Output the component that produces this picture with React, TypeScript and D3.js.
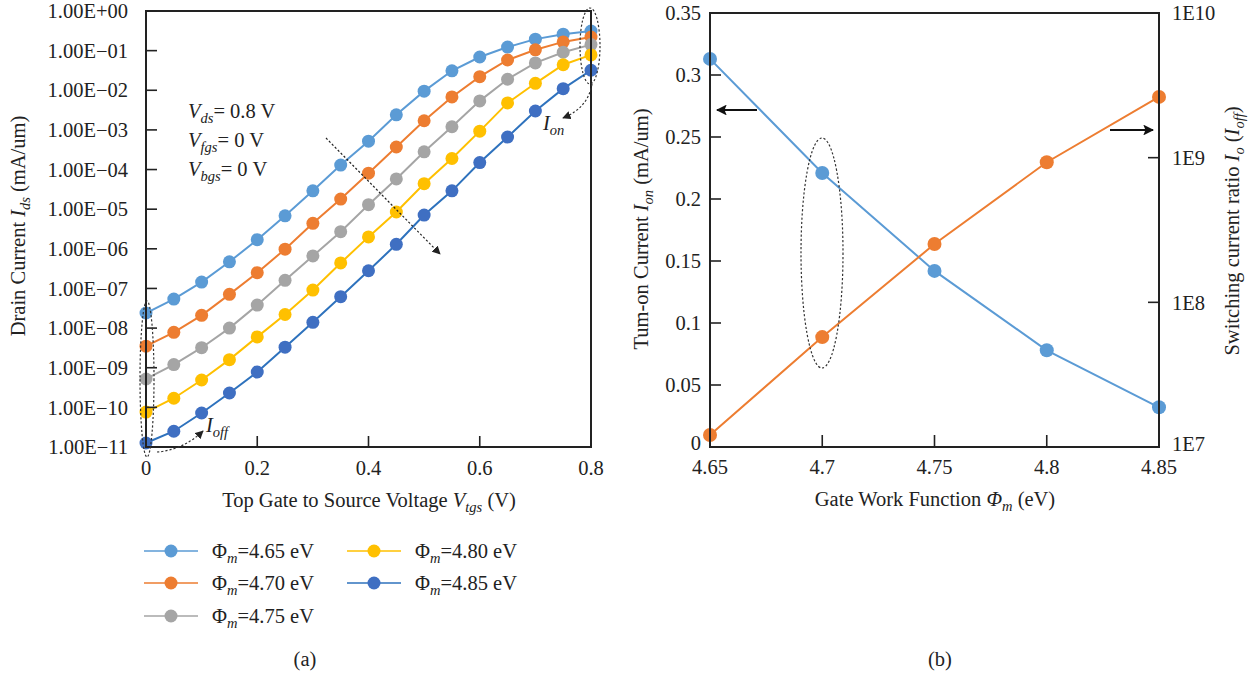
import React from "react";
import * as d3 from "d3";

// ---- Panel (a): drain current vs top-gate voltage ----
const vtgs = [0, 0.05, 0.1, 0.15, 0.2, 0.25, 0.3, 0.35, 0.4, 0.45, 0.5, 0.55, 0.6, 0.65, 0.7, 0.75, 0.8];
const ids465 = [2.4e-8, 5.4e-8, 1.45e-7, 4.7e-7, 1.7e-6, 6.8e-6, 2.9e-5, 1.3e-4, 5.2e-4, 2.4e-3, 9.5e-3, 3.1e-2, 6.9e-2, 0.123, 0.195, 0.26, 0.313];
const ids470 = [3.5e-9, 7.8e-9, 2.1e-8, 7.1e-8, 2.5e-7, 9.8e-7, 4.4e-6, 1.8e-5, 8.1e-5, 3.7e-4, 1.7e-3, 6.8e-3, 2.2e-2, 5.8e-2, 0.105, 0.166, 0.221];
const ids475 = [5.2e-10, 1.2e-9, 3.2e-9, 1.0e-8, 3.8e-8, 1.6e-7, 6.6e-7, 2.7e-6, 1.3e-5, 5.8e-5, 2.8e-4, 1.2e-3, 5.4e-3, 1.9e-2, 4.9e-2, 9.1e-2, 0.142];
const ids480 = [7.6e-11, 1.7e-10, 4.9e-10, 1.6e-9, 6.0e-9, 2.2e-8, 9.1e-8, 4.4e-7, 2.0e-6, 8.5e-6, 4.4e-5, 1.9e-4, 9.3e-4, 4.8e-3, 1.5e-2, 4.4e-2, 0.078];
const ids485 = [1.26e-11, 2.5e-11, 7.2e-11, 2.3e-10, 7.8e-10, 3.3e-9, 1.4e-8, 6.2e-8, 2.8e-7, 1.3e-6, 7.1e-6, 2.9e-5, 1.5e-4, 6.6e-4, 3.0e-3, 1.1e-2, 0.032];
const seriesLabels = ["4.65", "4.70", "4.75", "4.80", "4.85"];
const yExponentsA = [0, -1, -2, -3, -4, -5, -6, -7, -8, -9, -10, -11];
const xTicksA = [0, 0.2, 0.4, 0.6, 0.8];

// ---- Panel (b): on-current and switching ratio vs work function ----
const phiM = [4.65, 4.7, 4.75, 4.8, 4.85];
const ionValues = [0.313, 0.221, 0.142, 0.078, 0.032];
const ratioValues = [1.21e7, 5.75e7, 2.53e8, 9.3e8, 2.63e9];
const xTicksB = [4.65, 4.7, 4.75, 4.8, 4.85];
const yTicksBLeft = [0, 0.05, 0.1, 0.15, 0.2, 0.25, 0.3, 0.35];
const yTicksBRight = [1e7, 1e8, 1e9, 1e10];
const yTickLabelsBRight = ["1E7", "1E8", "1E9", "1E10"];

const seriesData = [ids465, ids470, ids475, ids480, ids485];
const markerColors = ["#5b9bd5", "#ed7d31", "#a5a5a5", "#ffc000", "#3f6fc2"];
const lineColors = ["#5b9bd5", "#ed7d31", "#a5a5a5", "#ffc000", "#2e72bd"];

const FONT = "'Liberation Serif', 'DejaVu Serif', serif";
const TXT = "#222";
const AX = "#222";

function sciLabel(e: number) {
  const sign = e >= 0 ? "+" : "\u2212";
  const a = Math.abs(e);
  return `1.00E${sign}${a < 10 ? "0" + a : a}`;
}

export default function App() {
  // scales for panel (a)
  const xA = d3.scaleLinear().domain([0, 0.8]).range([146, 591]);
  const yA = d3.scaleLog().domain([1e-11, 1]).range([447, 11]);
  const lineA = d3
    .line<number>()
    .x((_, i) => xA(vtgs[i]))
    .y((v) => yA(v));

  // scales for panel (b)
  const xB = d3.scaleLinear().domain([4.65, 4.85]).range([710, 1159]);
  const yBL = d3.scaleLinear().domain([0, 0.35]).range([447, 13]);
  const yBR = d3.scaleLog().domain([1e7, 1e10]).range([447, 13]);
  const lineIon = d3
    .line<number>()
    .x((_, i) => xB(phiM[i]))
    .y((v) => yBL(v));
  const lineRatio = d3
    .line<number>()
    .x((_, i) => xB(phiM[i]))
    .y((v) => yBR(v));

  const fs = 20.5;
  const sfs = 14.5;
  const dash = "2.2,2";

  const legendPos = [
    [144, 551],
    [144, 583],
    [144, 616],
    [347, 551],
    [347, 583],
  ];

  return (
    <svg
      width={1258}
      height={676}
      style={{ position: "absolute", left: 0, top: 0, background: "#fff" }}
      fontFamily={FONT}
    >
      <defs>
        <marker id="arrowHead" viewBox="0 0 10 10" refX="9" refY="5" markerWidth="7" markerHeight="7" orient="auto-start-reverse">
          <path d="M0,0 L10,5 L0,10 z" fill="#222" />
        </marker>
        <marker id="arrowBig" viewBox="0 0 10 10" refX="9" refY="5" markerWidth="6" markerHeight="6" orient="auto-start-reverse">
          <path d="M0,0 L10,5 L0,10 L2,5 z" fill="#111" />
        </marker>
      </defs>
      <rect width={1258} height={676} fill="#fff" />

      {/* ============ Panel (a) ============ */}
      {/* series lines and markers */}
      {seriesData.map((s, k) => (
        <g key={"s" + k}>
          <path d={lineA(s) ?? ""} fill="none" stroke={lineColors[k]} strokeWidth={2} />
          {s.map((v, i) => (
            <circle key={i} cx={xA(vtgs[i])} cy={yA(v)} r={6.5} fill={markerColors[k]} />
          ))}
        </g>
      ))}

      {/* frame */}
      <rect x={146} y={11} width={445} height={436} fill="none" stroke={AX} strokeWidth={2} />
      {/* y ticks */}
      {yExponentsA.map((e) => (
        <g key={"ya" + e}>
          <line x1={146} x2={157} y1={yA(Math.pow(10, e))} y2={yA(Math.pow(10, e))} stroke={AX} strokeWidth={1.6} />
          <text x={128} y={yA(Math.pow(10, e))} dy="0.35em" textAnchor="end" fontSize={fs} fill={TXT}>
            {sciLabel(e)}
          </text>
        </g>
      ))}
      {/* x ticks */}
      {xTicksA.map((t) => (
        <g key={"xa" + t}>
          <line x1={xA(t)} x2={xA(t)} y1={447} y2={436} stroke={AX} strokeWidth={1.6} />
          <text x={xA(t)} y={475} textAnchor="middle" fontSize={fs} fill={TXT}>
            {t === 0 ? "0" : t.toString()}
          </text>
        </g>
      ))}

      {/* axis titles */}
      <text x={369} y={507} textAnchor="middle" fontSize={fs} fill={TXT}>
        Top Gate to Source Voltage <tspan fontStyle="italic">V</tspan>
        <tspan fontStyle="italic" fontSize={sfs} dy={5}>tgs</tspan>
        <tspan dy={-5}> (V)</tspan>
      </text>
      <text transform="translate(25,226) rotate(-90)" textAnchor="middle" fontSize={fs} fill={TXT}>
        Drain Current <tspan fontStyle="italic">I</tspan>
        <tspan fontStyle="italic" fontSize={sfs} dy={5}>ds</tspan>
        <tspan dy={-5}> (mA/um)</tspan>
      </text>

      {/* bias conditions */}
      {[
        ["ds", "= 0.8 V", 118],
        ["fgs", "= 0 V", 147],
        ["bgs", "= 0 V", 176],
      ].map(([sub, rest, y]) => (
        <text key={sub as string} x={188} y={y as number} fontSize={fs} fill={TXT}>
          <tspan fontStyle="italic">V</tspan>
          <tspan fontStyle="italic" fontSize={sfs} dy={5}>{sub}</tspan>
          <tspan dy={-5}>{rest}</tspan>
        </text>
      ))}

      {/* trend arrow across the curves */}
      <line x1={326} y1={138} x2={440} y2={254} stroke="#222" strokeWidth={1.2} strokeDasharray={dash} markerEnd="url(#arrowHead)" />

      {/* I_off ellipse and label */}
      <ellipse cx={147} cy={379} rx={7} ry={78} fill="none" stroke="#333" strokeWidth={1.2} strokeDasharray={dash} />
      <path d="M157,452 Q183,450 203,431" fill="none" stroke="#333" strokeWidth={1.2} strokeDasharray={dash} markerEnd="url(#arrowHead)" />
      <text x={206} y={432} fontSize={fs} fill={TXT}>
        <tspan fontStyle="italic">I</tspan>
        <tspan fontStyle="italic" fontSize={sfs} dy={5}>off</tspan>
      </text>

      {/* I_on ellipse and label */}
      <ellipse cx={590} cy={46} rx={10} ry={38} fill="none" stroke="#333" strokeWidth={1.2} strokeDasharray={dash} />
      <path d="M592,84 Q588,108 563,118" fill="none" stroke="#333" strokeWidth={1.2} strokeDasharray={dash} markerEnd="url(#arrowHead)" />
      <text x={543} y={130} fontSize={fs} fill={TXT}>
        <tspan fontStyle="italic">I</tspan>
        <tspan fontStyle="italic" fontSize={sfs} dy={5}>on</tspan>
      </text>

      {/* legend */}
      {seriesLabels.map((lab, k) => {
        const [lx, ly] = legendPos[k];
        return (
          <g key={"lg" + k}>
            <line x1={lx} x2={lx + 54} y1={ly} y2={ly} stroke={lineColors[k]} strokeWidth={1.5} />
            <circle cx={lx + 27} cy={ly} r={6.5} fill={markerColors[k]} />
            <text x={lx + 68} y={ly} dy="0.35em" fontSize={fs} fill={TXT}>
              {"\u03A6"}
              <tspan fontStyle="italic" fontSize={sfs} dy={5}>m</tspan>
              <tspan dy={-5}>={lab} eV</tspan>
            </text>
          </g>
        );
      })}
      <text x={305} y={666} textAnchor="middle" fontSize={fs} fill={TXT}>(a)</text>

      {/* ============ Panel (b) ============ */}
      <path d={lineIon(ionValues) ?? ""} fill="none" stroke="#5b9bd5" strokeWidth={2} />
      <path d={lineRatio(ratioValues) ?? ""} fill="none" stroke="#ed7d31" strokeWidth={2} />
      {ionValues.map((v, i) => (
        <circle key={"ion" + i} cx={xB(phiM[i])} cy={yBL(v)} r={7} fill="#5b9bd5" />
      ))}
      {ratioValues.map((v, i) => (
        <circle key={"rt" + i} cx={xB(phiM[i])} cy={yBR(v)} r={7} fill="#ed7d31" />
      ))}

      {/* axes: left, bottom, right, top */}
      <rect x={710} y={13} width={449} height={434} fill="none" stroke={AX} strokeWidth={2} />
      {yTicksBLeft.map((t) => (
        <g key={"ybl" + t}>
          {t > 0 && t < 0.35 && (
            <line x1={710} x2={721} y1={yBL(t)} y2={yBL(t)} stroke={AX} strokeWidth={1.6} />
          )}
          <text x={701} y={yBL(t) - (t === 0 ? 4 : 0)} dy="0.35em" textAnchor="end" fontSize={fs} fill={TXT}>
            {t === 0 ? "0" : t.toString()}
          </text>
        </g>
      ))}
      {yTicksBRight.map((t, i) => (
        <g key={"ybr" + t}>
          {i > 0 && i < yTicksBRight.length - 1 && (
            <line x1={1159} x2={1148} y1={yBR(t)} y2={yBR(t)} stroke={AX} strokeWidth={1.6} />
          )}
          <text x={1172} y={yBR(t) - (i === 0 ? 3 : 0)} dy="0.35em" textAnchor="start" fontSize={fs} fill={TXT}>
            {yTickLabelsBRight[i]}
          </text>
        </g>
      ))}
      {xTicksB.map((t, i) => (
        <g key={"xb" + t}>
          {i > 0 && i < xTicksB.length - 1 && (
            <line x1={xB(t)} x2={xB(t)} y1={447} y2={435} stroke={AX} strokeWidth={1.6} />
          )}
          <text x={xB(t)} y={474} textAnchor="middle" fontSize={fs} fill={TXT}>
            {t.toString()}
          </text>
        </g>
      ))}

      {/* axis titles */}
      <text x={935} y={506} textAnchor="middle" fontSize={fs} fill={TXT}>
        Gate Work Function <tspan fontStyle="italic">{"\u03A6"}</tspan>
        <tspan fontStyle="italic" fontSize={sfs} dy={5}>m</tspan>
        <tspan dy={-5}> (eV)</tspan>
      </text>
      <text transform="translate(648,229) rotate(-90)" textAnchor="middle" fontSize={fs} fill={TXT}>
        Tum-on Current <tspan fontStyle="italic">I</tspan>
        <tspan fontStyle="italic" fontSize={sfs} dy={5}>on</tspan>
        <tspan dy={-5}> (mA/um)</tspan>
      </text>
      <text transform="translate(1239,231) rotate(-90)" textAnchor="middle" fontSize={fs} fill={TXT}>
        Switching current ratio <tspan fontStyle="italic">I</tspan>
        <tspan fontStyle="italic" fontSize={sfs} dy={5}>o</tspan>
        <tspan dy={-5}> (</tspan>
        <tspan fontStyle="italic">I</tspan>
        <tspan fontStyle="italic" fontSize={sfs} dy={5}>off</tspan>
        <tspan dy={-5}>)</tspan>
      </text>

      {/* axis indicator arrows */}
      <line x1={757} y1={110} x2={717} y2={110} stroke="#111" strokeWidth={1.8} markerEnd="url(#arrowBig)" />
      <line x1={1110} y1={130} x2={1153} y2={130} stroke="#111" strokeWidth={1.8} markerEnd="url(#arrowBig)" />

      {/* highlight around 4.7 eV */}
      <ellipse cx={822} cy={253} rx={21} ry={115} fill="none" stroke="#333" strokeWidth={1.2} strokeDasharray={dash} />

      <text x={940} y={666} textAnchor="middle" fontSize={fs} fill={TXT}>(b)</text>
    </svg>
  );
}
